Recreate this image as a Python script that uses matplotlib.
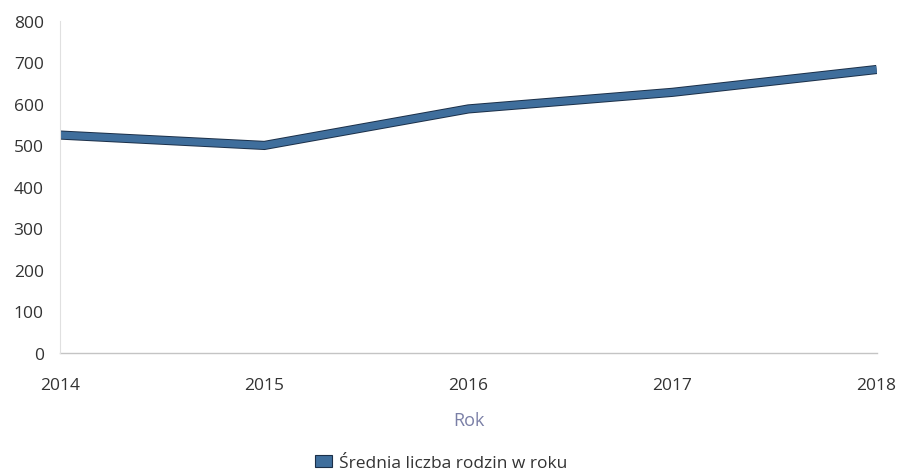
import matplotlib.pyplot as plt
import matplotlib.patheffects as pe
from matplotlib.patches import Patch

years = [2014, 2015, 2016, 2017, 2018]
values = [525, 500, 588, 628, 683]
y_ticks = [0, 100, 200, 300, 400, 500, 600, 700, 800]
series_name = "Średnia liczba rodzin w roku"

plt.rcParams['font.family'] = ['Open Sans', 'DejaVu Sans']

fig = plt.figure(figsize=(9, 4.77), dpi=100)
ax = fig.add_axes([0.067, 0.258, 0.907, 0.696])

line_color = "#3f6e9c"
ax.plot(years, values, color=line_color, linewidth=5.2, solid_joinstyle="miter",
        solid_capstyle="butt",
        path_effects=[pe.Stroke(linewidth=6.6, foreground="#1b2f48"), pe.Normal()])

ax.set_xlim(2014, 2018)
ax.set_ylim(0, 800)
ax.set_yticks(y_ticks)
ax.set_xticks(years)

for s in ["top", "right", "bottom"]:
    ax.spines[s].set_visible(False)
ax.spines["left"].set_color("#e0e0e0")
ax.spines["left"].set_linewidth(0.8)
ax.axhline(0, color="#c4c4c4", linewidth=1.0, zorder=0, clip_on=False)

ax.tick_params(axis="both", length=0, labelsize=12.5, colors="#333333")
ax.tick_params(axis="y", pad=12)
ax.tick_params(axis="x", pad=17)

ax.set_xlabel("Rok", fontsize=13, color="#7a7fa6", labelpad=13)

handle = Patch(facecolor=line_color, edgecolor="#1b2f48", linewidth=0.8)
fig.legend([handle], [series_name], loc="center", bbox_to_anchor=(0.49, 0.027),
           frameon=False, fontsize=12.5, handlelength=1.0, handleheight=0.7,
           handletextpad=0.4, labelcolor="#333333")

fig.savefig("out.png", dpi=100)
